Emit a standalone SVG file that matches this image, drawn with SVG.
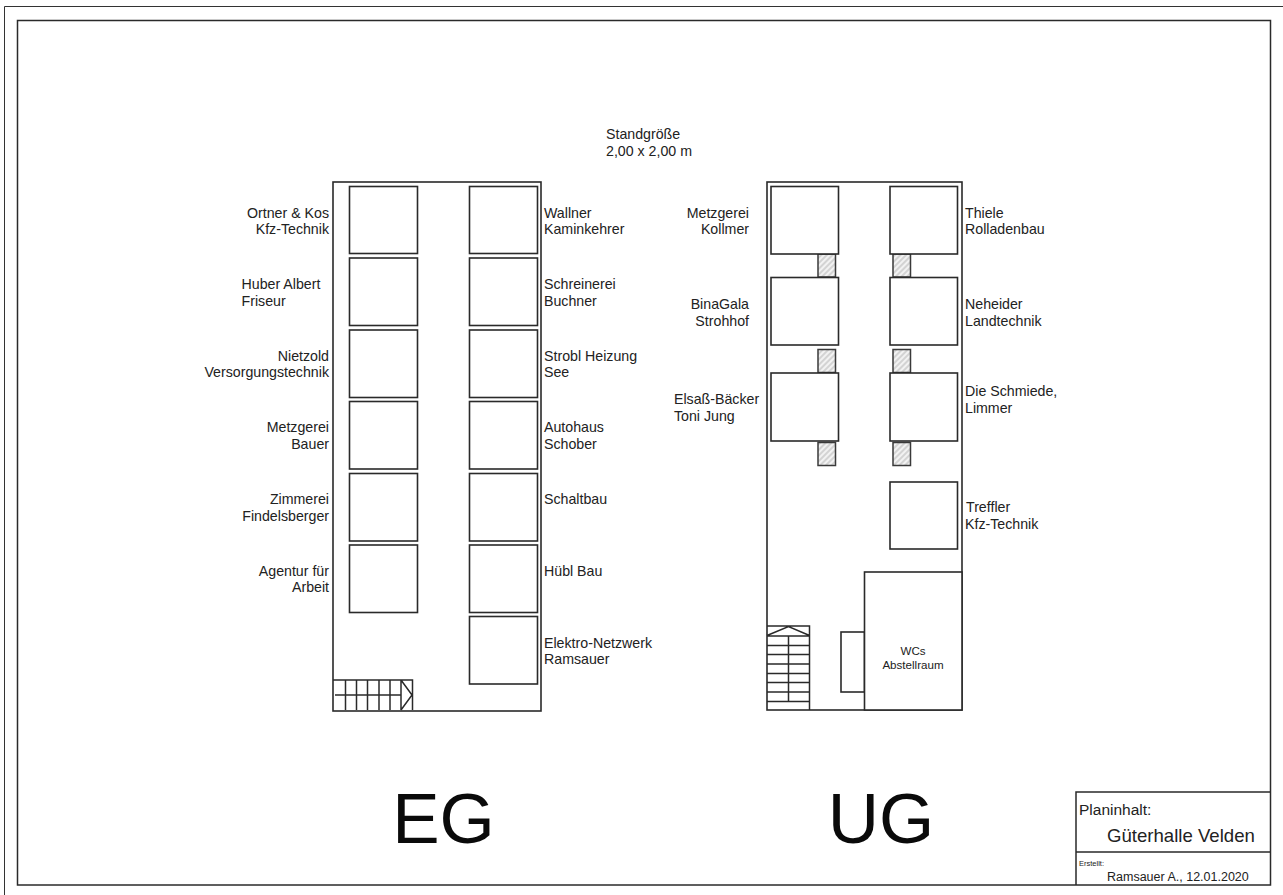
<svg xmlns="http://www.w3.org/2000/svg" width="1283" height="895" viewBox="0 0 1283 895">
<style>
.l{fill:none;stroke:#2a2a2a;stroke-width:1.5}
.b{fill:#fff;stroke:#2a2a2a;stroke-width:1.6}
.s{fill:url(#h);stroke:#3a3a3a;stroke-width:1.5}
.t{font-family:"Liberation Sans",Arial,sans-serif;font-size:14.2px;fill:#222}
.e{text-anchor:end}
.big{font-family:"Liberation Sans",Arial,sans-serif;font-size:71px;text-anchor:middle;fill:#0a0a0a}
.w{font-family:"Liberation Sans",Arial,sans-serif;font-size:11.6px;text-anchor:middle;fill:#222}
.n{font-family:"Liberation Sans",Arial,sans-serif;fill:#222}
</style>
<defs>
<pattern id="h" width="4" height="4" patternUnits="userSpaceOnUse" patternTransform="rotate(-45)"><rect width="4" height="4" fill="#f2f2f2"/><line x1="0" y1="1" x2="4" y2="1" stroke="#b4b4b4" stroke-width="1"/></pattern>
</defs>
<rect width="1283" height="895" fill="#fff"/>
<g id="frame">
<path d="M4.500 895V6.500H1283" fill="none" stroke="#333" stroke-width="1"/>
<rect class="l" x="17.500" y="20.500" width="1253" height="864.500"/>
</g>
<text class="t" x="606" y="138.500">Standgröße</text>
<text class="t" x="606" y="155.500">2,00 x 2,00 m</text>
<g id="eg">
<rect class="b" x="333" y="182" width="208" height="529"/>
<path class="l" d="M333 680H412.500V710M345.500 680V710M356.500 680V710M367.500 680V710M379 680V710M390 680V710M401 680V710M335 695H401M401 680L412 695L401 710"/>
<text class="big" x="443.500" y="843">EG</text>
</g>
<g id="eg-l1"><rect class="b" x="349.500" y="186.500" width="68" height="67"/><text class="t e" x="329" y="217.500">Ortner &amp; Kos</text><text class="t e" x="329" y="234">Kfz-Technik</text></g>
<g id="eg-l2"><rect class="b" x="349.500" y="258" width="68" height="67.500"/><text class="t" x="241.500" y="289">Huber Albert</text><text class="t" x="241.500" y="305.500">Friseur</text></g>
<g id="eg-l3"><rect class="b" x="349.500" y="330" width="68" height="67.500"/><text class="t e" x="329" y="360.500">Nietzold</text><text class="t e" x="329" y="377">Versorgungstechnik</text></g>
<g id="eg-l4"><rect class="b" x="349.500" y="401.500" width="68" height="67.500"/><text class="t e" x="329" y="432">Metzgerei</text><text class="t e" x="329" y="448.500">Bauer</text></g>
<g id="eg-l5"><rect class="b" x="349.500" y="473.500" width="68" height="67.500"/><text class="t e" x="329" y="504">Zimmerei</text><text class="t e" x="329" y="520.500">Findelsberger</text></g>
<g id="eg-l6"><rect class="b" x="349.500" y="545" width="68" height="67.500"/><text class="t e" x="329" y="575.500">Agentur für</text><text class="t e" x="329" y="592">Arbeit</text></g>
<g id="eg-r1"><rect class="b" x="469.500" y="186.500" width="68" height="67"/><text class="t" x="544" y="217.500">Wallner</text><text class="t" x="544" y="234">Kaminkehrer</text></g>
<g id="eg-r2"><rect class="b" x="469.500" y="258" width="68" height="67.500"/><text class="t" x="544" y="289">Schreinerei</text><text class="t" x="544" y="305.500">Buchner</text></g>
<g id="eg-r3"><rect class="b" x="469.500" y="330" width="68" height="67.500"/><text class="t" x="544" y="360.500">Strobl Heizung</text><text class="t" x="544" y="377">See</text></g>
<g id="eg-r4"><rect class="b" x="469.500" y="401.500" width="68" height="67.500"/><text class="t" x="544" y="432">Autohaus</text><text class="t" x="544" y="448.500">Schober</text></g>
<g id="eg-r5"><rect class="b" x="469.500" y="473.500" width="68" height="67.500"/><text class="t" x="544" y="504">Schaltbau</text></g>
<g id="eg-r6"><rect class="b" x="469.500" y="545" width="68" height="67.500"/><text class="t" x="544" y="575.500">Hübl Bau</text></g>
<g id="eg-r7"><rect class="b" x="469.500" y="616.500" width="68" height="67.500"/><text class="t" x="544" y="647.500">Elektro-Netzwerk</text><text class="t" x="544" y="664">Ramsauer</text></g>
<g id="ug">
<rect class="b" x="767" y="182" width="195" height="528"/>
<path class="l" d="M767 626H809.500V710M767 636H809.500M767 645.500H809.500M767 654.500H809.500M767 664H809.500M767 673.500H809.500M767 682.500H809.500M767 692H809.500M767 701.500H809.500M788.500 636V701.500M767 635.500L788.500 626.500L809.500 635.500"/>
<rect class="b" x="841" y="632" width="23.500" height="60"/>
<rect class="b" x="864.500" y="572" width="97.500" height="138"/>
<text class="big" x="881" y="843">UG</text>
<text class="w" x="913" y="655">WCs</text>
<text class="w" x="913" y="669">Abstellraum</text>
</g>
<g id="ug-s">
<rect class="s" x="818" y="254" width="17.500" height="23"/>
<rect class="s" x="893" y="254" width="17.500" height="23"/>
<rect class="s" x="818" y="349.500" width="17.500" height="23"/>
<rect class="s" x="893" y="349.500" width="17.500" height="23"/>
<rect class="s" x="818" y="442.500" width="17.500" height="23"/>
<rect class="s" x="893" y="442.500" width="17.500" height="23"/>
</g>
<g id="ug-l1"><rect class="b" x="771" y="186.500" width="67.500" height="67.500"/><text class="t e" x="749" y="217.500">Metzgerei</text><text class="t e" x="749" y="234">Kollmer</text></g>
<g id="ug-l2"><rect class="b" x="771" y="277.500" width="67.500" height="67.500"/><text class="t e" x="749" y="309">BinaGala</text><text class="t e" x="749" y="325.500">Strohhof</text></g>
<g id="ug-l3"><rect class="b" x="771" y="373" width="67.500" height="68"/><text class="t" x="674" y="404">Elsaß-Bäcker</text><text class="t" x="674" y="421">Toni Jung</text></g>
<g id="ug-r1"><rect class="b" x="890" y="186.500" width="67.500" height="67.500"/><text class="t" x="965" y="217.500">Thiele</text><text class="t" x="965" y="234">Rolladenbau</text></g>
<g id="ug-r2"><rect class="b" x="890" y="277.500" width="67.500" height="67.500"/><text class="t" x="965" y="309">Neheider</text><text class="t" x="965" y="325.500">Landtechnik</text></g>
<g id="ug-r3"><rect class="b" x="890" y="373" width="67.500" height="68"/><text class="t" x="965" y="396">Die Schmiede,</text><text class="t" x="965" y="413">Limmer</text></g>
<g id="ug-r4"><rect class="b" x="890" y="482" width="67.500" height="67"/><text class="t" x="966" y="512">Treffler</text><text class="t" x="965" y="529">Kfz-Technik</text></g>
<g id="title">
<path class="l" d="M1076 885V792H1270M1076 852H1270"/>
<text class="n" x="1079" y="815" font-size="15.500">Planinhalt:</text>
<text class="n" x="1107" y="842" font-size="18.600">Güterhalle Velden</text>
<text class="n" x="1079" y="866" font-size="7.500">Erstellt:</text>
<text class="n" x="1107" y="881" font-size="12.500">Ramsauer A., 12.01.2020</text>
</g>
</svg>
